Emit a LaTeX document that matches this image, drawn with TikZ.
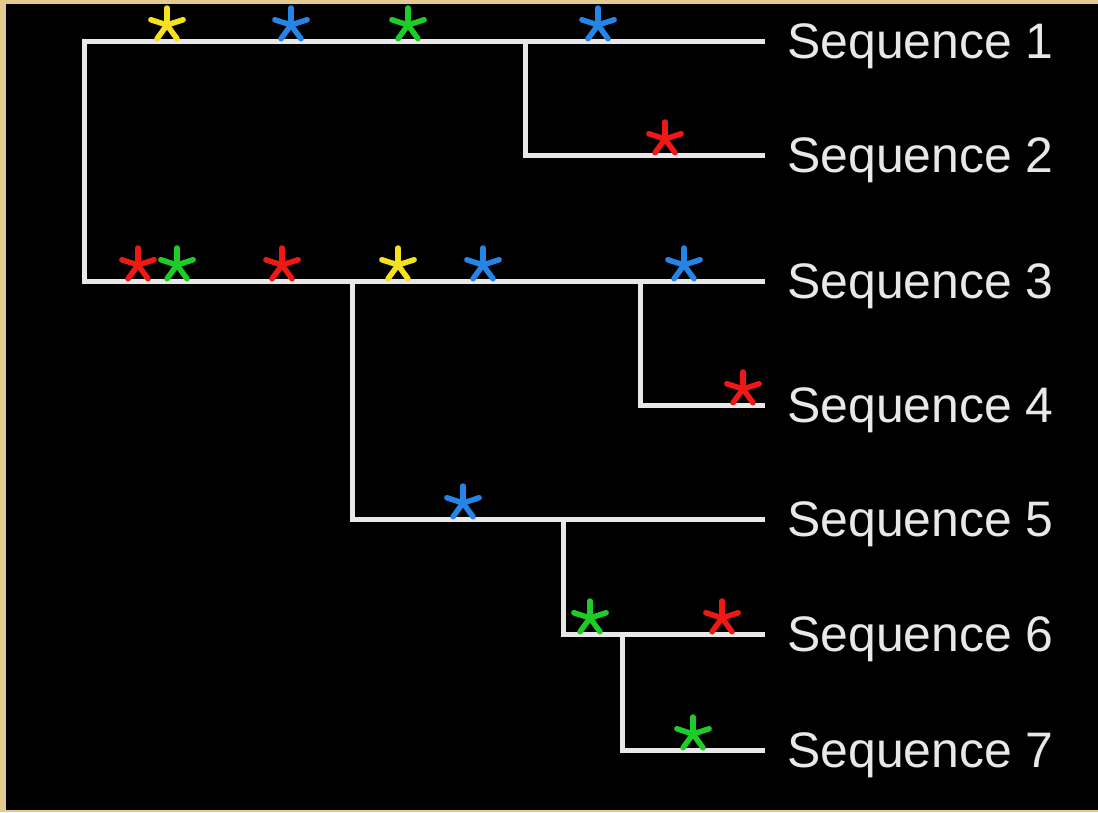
\documentclass[tikz,border=0pt]{standalone}
\usepackage{xcolor}
\usepackage{fontspec}
\setmainfont{Liberation Sans}
\usepackage{tikz}
\usetikzlibrary{positioning}

\definecolor{frame}{RGB}{228,202,142}
\definecolor{branchgrey}{RGB}{232,232,232}
\definecolor{mutyellow}{RGB}{246,226,28}
\definecolor{mutblue}{RGB}{36,132,232}
\definecolor{mutgreen}{RGB}{30,204,40}
\definecolor{mutred}{RGB}{240,24,20}

\tikzset{
    mut/.pic={
        \foreach \a in {90,162,234,306,18}
            \draw[line width=0.11cm, line cap=round] (0,0) -- (\a:0.34cm);
    }
}

\begin{document}
\begin{tikzpicture}[
    x=0.02cm, y=-0.02cm,
    branch/.style={draw=branchgrey, line width=0.1cm},
    seqlabel/.style={text=branchgrey, inner sep=0pt, text height=20.4pt, text depth=0pt, font=\fontsize{28.4pt}{34pt}\selectfont}
]
\useasboundingbox (0,0) rectangle (1098,812);
\fill[frame] (0,0) rectangle (1098,812);
\fill[black] (6,4) rectangle (1098,810);

% tips and inner nodes
\coordinate (e1) at (765,41);
\coordinate (e2) at (765,155);
\coordinate (e3) at (765,281);
\coordinate (e4) at (765,405);
\coordinate (e5) at (765,519);
\coordinate (e6) at (765,634);
\coordinate (e7) at (765,750);
\coordinate (root) at (84,161);
\coordinate (na) at (525,41);
\coordinate (nb) at (352,281);
\coordinate (nc) at (640,281);
\coordinate (nd) at (563,519);
\coordinate (ne) at (622,634);

\node[seqlabel, right=0.44cm of e1] (s1) {Sequence 1};
\node[seqlabel, right=0.44cm of e2] (s2) {Sequence 2};
\node[seqlabel, right=0.44cm of e3] (s3) {Sequence 3};
\node[seqlabel, right=0.44cm of e4] (s4) {Sequence 4};
\node[seqlabel, right=0.44cm of e5] (s5) {Sequence 5};
\node[seqlabel, right=0.44cm of e6] (s6) {Sequence 6};
\node[seqlabel, right=0.44cm of e7] (s7) {Sequence 7};

\draw[branch] (root) |- (e1);
\draw[branch] (root) |- (e3);
\draw[branch] (na) |- (e2);
\draw[branch] (nb) |- (e5);
\draw[branch] (nc) |- (e4);
\draw[branch] (nd) |- (e6);
\draw[branch] (ne) |- (e7);

% mutations
\pic[mutyellow] at (167,25) {mut};
\pic[mutblue] at (291,25) {mut};
\pic[mutgreen] at (408,25) {mut};
\pic[mutblue] at (598,25) {mut};
\pic[mutred] at (665,139) {mut};
\pic[mutred] at (138,265) {mut};
\pic[mutgreen] at (177,265) {mut};
\pic[mutred] at (282,265) {mut};
\pic[mutyellow] at (398,265) {mut};
\pic[mutblue] at (483,265) {mut};
\pic[mutblue] at (684,265) {mut};
\pic[mutred] at (743,389) {mut};
\pic[mutblue] at (463,503) {mut};
\pic[mutgreen] at (590,618) {mut};
\pic[mutred] at (722,618) {mut};
\pic[mutgreen] at (693,734) {mut};
\end{tikzpicture}
\end{document}
